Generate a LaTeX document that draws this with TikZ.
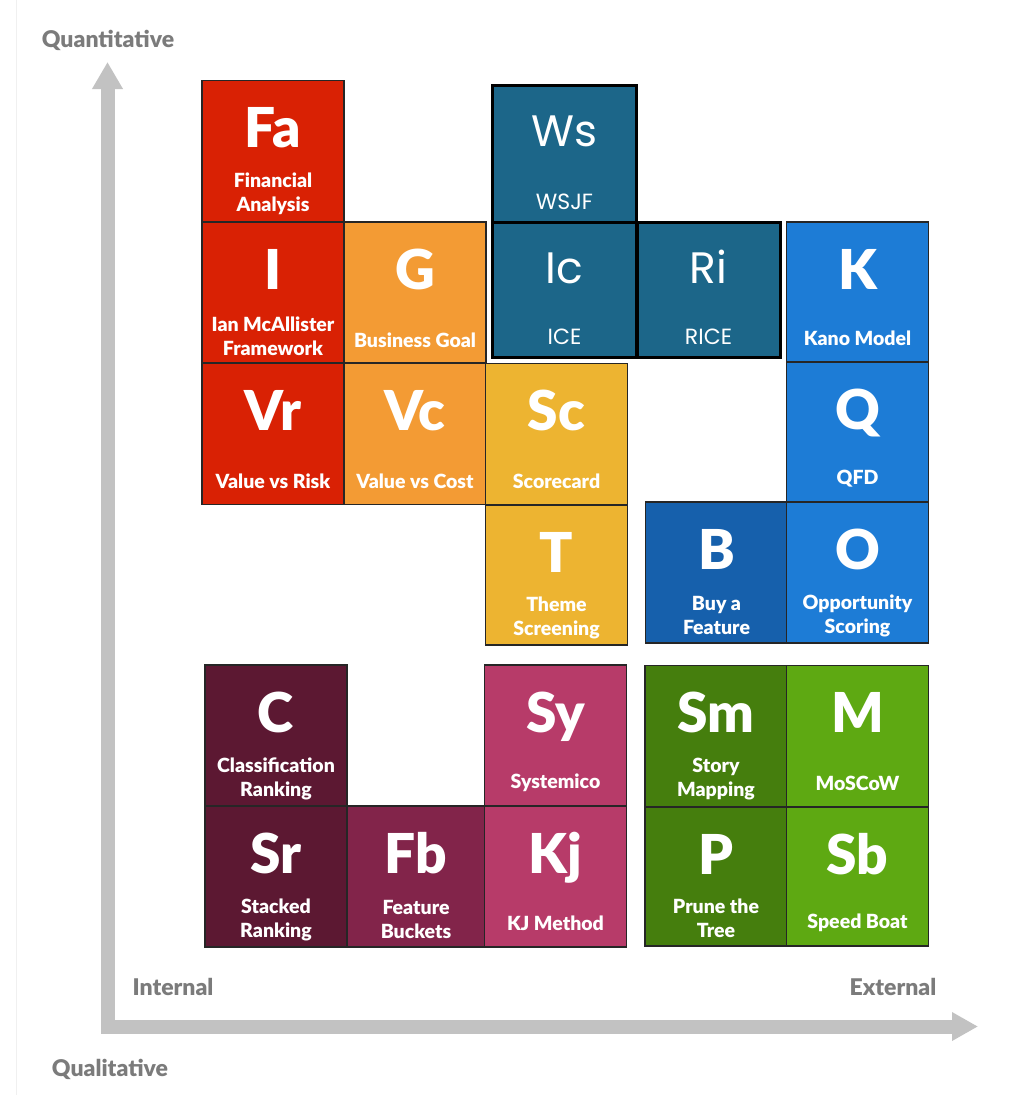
\documentclass[tikz,border=0pt]{standalone}
\usepackage{fontspec}
\setmainfont{Lato}
\newfontfamily\heavyfont{Lato Black}
\newfontfamily\wsfont{Poppins}
\usepackage{tikz}
\usetikzlibrary{arrows.meta}

\definecolor{tilered}{HTML}{D92104}
\definecolor{tileorange}{HTML}{F39B34}
\definecolor{tileyellow}{HTML}{EDB431}
\definecolor{tileteal}{HTML}{1C6689}
\definecolor{tileblue}{HTML}{1D7CD6}
\definecolor{tiledarkblue}{HTML}{1660AC}
\definecolor{tilemaroon}{HTML}{5C1832}
\definecolor{tilewine}{HTML}{82244A}
\definecolor{tilepink}{HTML}{B73B69}
\definecolor{tiledarkgreen}{HTML}{457E0D}
\definecolor{tilegreen}{HTML}{5EA912}
\definecolor{axisline}{HTML}{C2C2C2}
\definecolor{axistext}{HTML}{7B7B7B}

\begin{document}
\begin{tikzpicture}[x=1pt, y=-1pt,
        tile/.style={rectangle, draw=black!85, line width=1.5pt, minimum width=142pt, minimum height=141pt, inner sep=0pt},
        wtile/.style={rectangle, draw=black, line width=3pt, fill=tileteal, minimum width=144pt, minimum height=136pt, inner sep=0pt},
        tileabbr/.style={anchor=base, yshift=-68pt, text=white, font=\heavyfont\fontsize{55}{55}\selectfont},
        tiletext/.style={anchor=center, text=white, align=center, font=\heavyfont\fontsize{19.5}{24}\selectfont},
        tilename/.style={tiletext, yshift=28pt},
        tileline/.style={tiletext, yshift=24pt},
        wabbr/.style={anchor=base, yshift=-63pt, text=white, font=\wsfont\fontsize{44}{44}\selectfont},
        wname/.style={anchor=base, yshift=14pt, text=white, font=\wsfont\fontsize{22}{22}\selectfont},
        axislabel/.style={text=axistext, font=\heavyfont\fontsize{23}{23}\selectfont},
        axisarrow/.style={line width=14pt, draw=axisline, line join=miter}
    ]
        \useasboundingbox (0,0) rectangle (1033,1095);
        \draw[black!6] (16,0) -- (16,1095);

        % Axes
        \coordinate (ytip) at (107.5,62);
        \coordinate (xtip) at (978,1026.5);
        \draw[axisarrow, {Triangle[width=29pt, length=27pt]}-{Triangle[width=27pt, length=26pt]}] (ytip) |- (xtip);
        \node[axislabel] (quant) at (108,40) {Quantitative};
        \node[axislabel] (qual) at (110,1069) {Qualitative};
        \node[axislabel] (internal) at (173,987) {Internal};
        \node[axislabel] (external) at (893,987) {External};

        % Financial group
        \node[tile, fill=tilered, label={[tileabbr]north:Fa}, label={[tilename]south:Financial\\Analysis}] (fa) at (273,151) {};
        \node[tile, fill=tilered, label={[tileabbr]north:I}, label={[tilename]south:Ian McAllister\\Framework}] (ian) at (273,292.5) {};
        \node[tile, fill=tilered, label={[tileabbr]north:Vr}, label={[tileline]south:Value vs Risk}] (vr) at (273,434) {};
        \node[tile, fill=tileorange, label={[tileabbr]north:G}, label={[tileline]south:Business Goal}] (goal) at (415,292.5) {};
        \node[tile, fill=tileorange, label={[tileabbr]north:Vc}, label={[tileline]south:Value vs Cost}] (vc) at (415,434) {};
        \node[tile, fill=tileyellow, label={[tileabbr]north:Sc}, label={[tileline]south:Scorecard}] (sc) at (556.5,434) {};
        \node[tile, fill=tileyellow, minimum height=140pt, label={[tileabbr]north:T}, label={[tilename]south:Theme\\Screening}] (theme) at (556.5,575) {};

        % Scoring group
        \node[wtile, minimum height=137pt, label={[wabbr]north:Ws}, label={[wname]south:WSJF}] (ws) at (564.5,153.5) {};
        \node[wtile, minimum height=135pt, label={[wabbr]north:Ic}, label={[wname]south:ICE}] (ice) at (564.5,289.5) {};
        \node[wtile, minimum width=143pt, minimum height=135pt, label={[wabbr]north:Ri}, label={[wname]south:RICE}] (rice) at (708.5,289.5) {};

        % Customer group
        \node[tile, fill=tileblue, minimum height=140pt, label={[tileabbr]north:K}, label={[tileline]south:Kano Model}] (kano) at (857.5,292) {};
        \node[tile, fill=tileblue, minimum height=140pt, label={[tileabbr]north:Q}, label={[tileline]south:QFD}] (qfd) at (857.5,432) {};
        \node[tile, fill=tiledarkblue, label={[tileabbr]north:B}, label={[tilename]south:Buy a\\Feature}] (buy) at (716.5,572.5) {};
        \node[tile, fill=tileblue, label={[tileabbr]north:O}, label={[tilename]south:Opportunity\\Scoring}] (opp) at (857.5,572.5) {};

        % Ranking group
        \node[tile, fill=tilemaroon, label={[tileabbr]north:C}, label={[tilename]south:Classification\\Ranking}] (class) at (276,735.5) {};
        \node[tile, fill=tilemaroon, label={[tileabbr]north:Sr}, label={[tilename]south:Stacked\\Ranking}] (stack) at (276,876.5) {};
        \node[tile, fill=tilewine, minimum width=138pt, label={[tileabbr]north:Fb}, label={[tilename]south:Feature\\Buckets}] (buckets) at (416,876.5) {};
        \node[tile, fill=tilepink, label={[tileabbr]north:Sy}, label={[tileline]south:Systemico}] (sys) at (555.5,735.5) {};
        \node[tile, fill=tilepink, label={[tileabbr]north:Kj}, label={[tileline]south:KJ Method}] (kj) at (555.5,876.5) {};

        % Workshop group
        \node[tile, fill=tiledarkgreen, label={[tileabbr]north:Sm}, label={[tilename]south:Story\\Mapping}] (story) at (716,736) {};
        \node[tile, fill=tilegreen, label={[tileabbr]north:M}, label={[tileline]south:MoSCoW}] (moscow) at (857.5,736) {};
        \node[tile, fill=tiledarkgreen, minimum height=139pt, label={[tileabbr]north:P}, label={[tilename]south:Prune the\\Tree}] (prune) at (716,876.5) {};
        \node[tile, fill=tilegreen, minimum height=139pt, label={[tileabbr]north:Sb}, label={[tileline]south:Speed Boat}] (boat) at (857.5,876.5) {};
    \end{tikzpicture}
\end{document}
